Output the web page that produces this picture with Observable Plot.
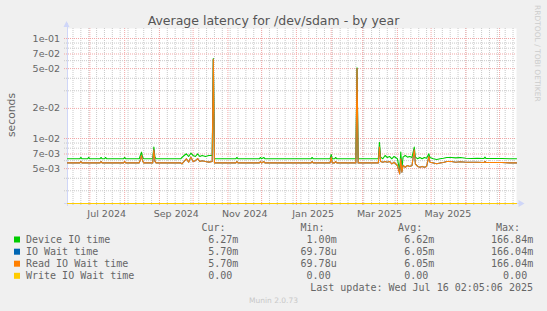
<!DOCTYPE html>
<html><head><meta charset="utf-8">
<script src="https://cdn.jsdelivr.net/npm/d3@7"></script>
<script src="https://cdn.jsdelivr.net/npm/@observablehq/plot@0.6"></script>
<style>
html,body{margin:0;padding:0;background:#F0F0F0;}
#chart{width:547px;height:311px;overflow:hidden;}
svg text{white-space:pre;}
</style></head><body><div id="chart"></div>
<script>
// ---------- texts ----------
const chartTitle = "Average latency for /dev/sdam - by year";
const yAxisLabel = "seconds";
const watermark = "RRDTOOL / TOBI OETIKER";
const lastUpdate = "Last update: Wed Jul 16 02:05:06 2025";
const version = "Munin 2.0.73";

// ---------- time range ----------
const timeStart = "2024-06-11T02:05:06Z";
const timeEnd = "2025-07-16T02:05:06Z";

// ---------- axis ticks ----------
const yMajorTicks = [0.1, 0.07, 0.05, 0.02, 0.01, 0.007, 0.005];
const yTickLabels = ["1e-01", "7e-02", "5e-02", "2e-02", "1e-02", "7e-03", "5e-03"];
const yMinorTicks = [0.09, 0.08, 0.06, 0.04, 0.03, 0.009, 0.008, 0.006, 0.004, 0.003];
const xLabelDates = ["2024-07-16", "2024-09-16", "2024-11-16", "2025-01-16", "2025-03-16", "2025-05-16"];
const xTickLabels = ["Jul 2024", "Sep 2024", "Nov 2024", "Jan 2025", "Mar 2025", "May 2025"];

// ---------- data (values in milliseconds) ----------
const dates = [
 "2024-06-11T02:05:06Z","2024-06-22","2024-06-23","2024-06-24","2024-06-29","2024-06-30","2024-07-01",
 "2024-07-10","2024-07-11","2024-07-12","2024-07-14","2024-07-15","2024-07-16","2024-07-31","2024-08-01","2024-08-02",
 "2024-08-14","2024-08-15","2024-08-16","2024-08-17","2024-08-18","2024-08-26","2024-08-27","2024-08-28","2024-08-29",
 "2024-09-20","2024-09-21","2024-09-23","2024-09-25","2024-09-27","2024-09-29","2024-10-01","2024-10-03","2024-10-05",
 "2024-10-07","2024-10-09","2024-10-12","2024-10-15","2024-10-18","2024-10-19","2024-10-20",
 "2024-11-08","2024-11-09","2024-11-10","2024-11-29","2024-11-30","2024-12-01","2024-12-03","2024-12-04",
 "2025-01-14","2025-01-15","2025-01-16","2025-01-31","2025-02-01","2025-02-02","2025-02-04","2025-02-05","2025-02-06",
 "2025-02-23","2025-02-24","2025-02-25","2025-03-15","2025-03-16","2025-03-17","2025-03-19","2025-03-21","2025-03-23",
 "2025-03-25","2025-03-27","2025-03-29","2025-04-01","2025-04-03","2025-04-04","2025-04-05","2025-04-06","2025-04-08",
 "2025-04-10","2025-04-12","2025-04-14","2025-04-16","2025-04-17","2025-04-19","2025-04-21","2025-04-23","2025-04-25",
 "2025-04-27","2025-04-29","2025-04-30","2025-05-03","2025-05-06","2025-05-09","2025-05-12","2025-05-15","2025-05-19",
 "2025-05-23","2025-05-27","2025-06-01","2025-06-06","2025-06-11","2025-06-17","2025-06-18","2025-06-19","2025-06-26",
 "2025-07-03","2025-07-10","2025-07-16T02:05:06Z"
];
const deviceIOTime = [
 6.27,6.27,6.46,6.27,6.27,6.46,6.27,
 6.27,6.46,6.27,6.27,6.46,6.27,6.27,6.46,6.27,
 6.27,6.76,7.30,6.51,6.27,6.27,8.22,6.51,6.27,
 6.27,6.46,6.76,7.03,6.61,7.13,6.76,6.61,7.03,
 6.61,6.76,6.61,6.76,6.76,63.1,6.27,
 6.27,6.46,6.27,6.27,6.46,6.27,6.46,6.27,
 6.27,6.46,6.27,6.27,6.92,6.27,6.27,6.46,6.27,
 6.27,50.9,6.27,6.27,9.18,6.51,6.27,6.76,6.46,
 6.61,6.27,6.61,6.27,4.79,7.30,5.00,6.51,6.76,
 6.51,6.61,6.46,8.22,6.51,6.27,6.46,6.27,6.46,
 6.35,7.03,6.46,6.27,6.17,6.27,6.35,6.46,6.46,
 6.40,6.46,6.35,6.30,6.35,6.30,6.51,6.30,6.30,
 6.30,6.27,6.27
];
const readIOWaitTime = [
 5.70,5.70,5.89,5.70,5.70,5.70,5.70,
 5.70,5.89,5.70,5.70,5.70,5.70,5.70,5.89,5.70,
 5.70,6.10,6.76,6.00,5.70,5.70,7.73,5.90,5.70,
 5.70,5.58,5.90,6.27,5.80,6.51,5.90,6.00,6.30,
 5.89,6.00,5.89,5.80,5.90,62.0,5.70,
 5.70,5.89,5.70,5.70,5.89,5.70,5.89,5.70,
 5.70,5.89,5.70,5.70,6.51,5.70,5.70,5.89,5.70,
 5.70,50.0,5.70,5.70,8.20,5.90,5.79,5.89,5.79,
 5.89,5.58,5.79,5.37,4.43,6.27,4.61,5.37,5.16,
 5.37,5.26,5.37,7.73,5.58,5.26,5.16,5.26,5.16,
 5.26,6.61,5.79,5.70,5.60,5.70,5.75,5.89,5.89,
 5.79,5.85,5.79,5.79,5.79,5.75,5.89,5.75,5.75,
 5.75,5.70,5.70
];
const ioWaitTime = readIOWaitTime.slice(); // identical readings (hidden under Read IO Wait)
const writeIOWaitDates = [timeStart, timeEnd];
const writeIOWaitTime = [0, 0];

// ---------- legend ----------
const seriesNames = ["Device IO time", "IO Wait time", "Read IO Wait time", "Write IO Wait time"];
const seriesColors = ["#00CC00", "#0066B3", "#FF8000", "#FFCC00"];
const statHeaders = ["Cur:", "Min:", "Avg:", "Max:"];
const statCur = ["6.27m", "5.70m", "5.70m", "0.00 "];
const statMin = ["1.00m", "69.78u", "69.78u", "0.00 "];
const statAvg = ["6.62m", "6.05m", "6.05m", "0.00 "];
const statMax = ["166.84m", "166.04m", "166.04m", "0.00 "];

// ---------- build ----------
const x0 = new Date(timeStart), x1 = new Date(timeEnd);
const yDomain = [Math.pow(10, -2.65), Math.pow(10, -0.9)];
const toRows = (vals) => dates.map((d, i) => ({date: new Date(d), v: vals[i] * 1e-3}));
const device = toRows(deviceIOTime);
const iow = toRows(ioWaitTime);
const rd = toRows(readIOWaitTime);
const wr = writeIOWaitDates.map((d, i) => ({date: new Date(d), v: Math.max(writeIOWaitTime[i], yDomain[0])}));
const months = d3.utcMonth.range(x0, x1);
const weeks = d3.utcSunday.range(x0, x1);

const MAJOR = "#F2A7A7", MINOR = "#C9C9C9", AXIS = "#CFD6F8", FONT = "#666666";

const svg = Plot.plot({
  width: 547, height: 311,
  marginLeft: 67, marginRight: 31, marginTop: 28, marginBottom: 108,
  style: {background: "transparent", fontFamily: "DejaVu Sans", color: FONT},
  x: {type: "utc", domain: [x0, x1], axis: null},
  y: {type: "log", domain: yDomain, axis: null},
  marks: [
    Plot.frame({fill: "white", stroke: null}),
    Plot.ruleX(weeks, {stroke: MINOR, strokeDasharray: "1,1", insetBottom: -3}),
    Plot.ruleY(yMinorTicks, {stroke: MINOR, strokeDasharray: "1,1", insetLeft: -3}),
    Plot.ruleX(months, {stroke: MAJOR, strokeDasharray: "1,1", insetBottom: -3}),
    Plot.ruleY(yMajorTicks, {stroke: MAJOR, strokeDasharray: "1,1", insetLeft: -3}),
    Plot.ruleX([x0], {stroke: AXIS, insetTop: -5, insetBottom: -3}),
    Plot.ruleY([yDomain[0]], {stroke: AXIS, insetLeft: -3, insetRight: -3}),
    Plot.text(yMajorTicks, {y: d => d, text: (d, i) => yTickLabels[i], frameAnchor: "left", textAnchor: "end", dx: -7.5, fontSize: 9.5, fill: FONT}),
    Plot.text(xLabelDates, {x: d => new Date(d), text: (d, i) => xTickLabels[i], frameAnchor: "bottom", dy: 10.5, lineAnchor: "middle", fontSize: 9.5, fill: FONT}),
    Plot.line(device, {x: "date", y: "v", stroke: seriesColors[0], strokeWidth: 1.1}),
    Plot.line(iow, {x: "date", y: "v", stroke: seriesColors[1], strokeWidth: 1.1}),
    Plot.line(rd, {x: "date", y: "v", stroke: seriesColors[2], strokeWidth: 1.1}),
    Plot.line(wr, {x: "date", y: "v", stroke: seriesColors[3], strokeWidth: 1.1})
  ]
});
document.getElementById("chart").appendChild(svg);

const s = d3.select(svg);
// axis arrows
s.append("path").attr("d", "M63.5,27 L66.5,21 L69.5,27 Z").attr("fill", AXIS);
s.append("path").attr("d", "M518.5,200 L524.5,203.5 L518.5,207 Z").attr("fill", AXIS);

const txt = (x, y, str, opts = {}) => s.append("text")
  .attr("x", x).attr("y", y).text(str)
  .attr("fill", opts.fill || FONT)
  .attr("font-family", opts.family || "DejaVu Sans")
  .attr("font-size", opts.size || 10)
  .attr("text-anchor", opts.anchor || "start")
  .attr("transform", opts.transform || null);

txt(273.5, 24.5, chartTitle, {size: 12.5, anchor: "middle", fill: "#555"});
txt(0, 0, yAxisLabel, {size: 10.8, anchor: "middle", transform: "translate(15,115) rotate(-90)"});
txt(0, 0, watermark, {size: 7.5, anchor: "start", fill: "#CCCCCC", transform: "translate(535,5) rotate(90)"});

const mono = "DejaVu Sans Mono";
const headerEnds = [225.5, 324.5, 422.2, 520];
const valueEnds = [238.3, 336.7, 434.4, 533.2];
const rowY = [243, 255.2, 267.2, 279.3];
statHeaders.forEach((h, j) => txt(headerEnds[j], 231, h, {family: mono, anchor: "end"}));
const stats = [statCur, statMin, statAvg, statMax];
seriesNames.forEach((name, i) => {
  s.append("rect").attr("x", 14).attr("y", rowY[i] - 6.5).attr("width", 6).attr("height", 6).attr("fill", seriesColors[i]);
  txt(26, rowY[i], name, {family: mono});
  stats.forEach((col, j) => txt(valueEnds[j], rowY[i], col[i], {family: mono, anchor: "end"}));
});
txt(533, 291.3, lastUpdate, {family: mono, anchor: "end"});
txt(273.5, 302.7, version, {size: 7.5, anchor: "middle", fill: "#C8C8C8"});
</script></body></html>
